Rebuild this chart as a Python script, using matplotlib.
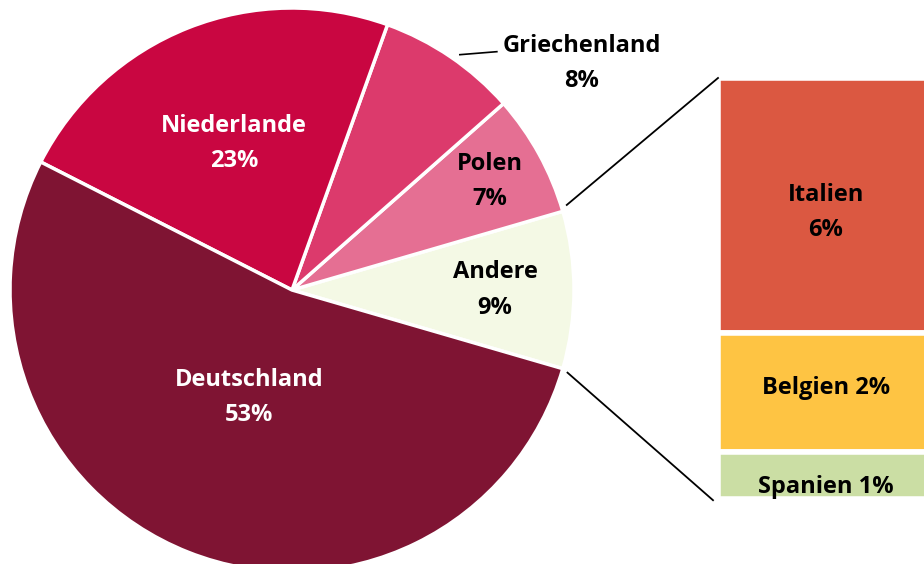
import numpy as np
import matplotlib
matplotlib.use("Agg")
import matplotlib.pyplot as plt

# pie data (share in %)
pie_labels = ["Andere", "Polen", "Griechenland", "Niederlande", "Deutschland"]
pie_values = [9, 7, 8, 23, 53]
pie_colors = ["#f4f9e5", "#e56f93", "#dc3a6c", "#c90641", "#7f1433"]
pie_text_colors = ["black", "black", "black", "white", "white"]

# breakdown of "Andere"
bar_labels = ["Italien\n6%", "Belgien 2%", "Spanien 1%"]
bar_values = [5.45, 2.55, 1.0]
bar_colors = ["#db5841", "#fec443", "#cbdea4"]

W, H = 924, 564
plt.rcParams["font.family"] = ["Open Sans", "DejaVu Sans"]

fig = plt.figure(figsize=(W / 100, H / 100), dpi=100)
ax = fig.add_axes([0, 0, 1, 1])

cx, cy, R = 292, 274, 282
start = -pie_values[0] / 100 * 360 / 2

wedges, _ = ax.pie(pie_values, colors=pie_colors, startangle=start, counterclock=True,
                   center=(cx, cy), radius=R, frame=True,
                   wedgeprops=dict(edgecolor="white", linewidth=2.5))
ax.set_xlim(0, W)
ax.set_ylim(0, H)
ax.set_aspect("equal")
ax.axis("off")

fs = 17
ls = 1.62
# label radius (fraction of R) per slice
label_r = [0.72, 0.80, None, 0.56, 0.41]
for w, lab, val, tc, lr in zip(wedges, pie_labels, pie_values, pie_text_colors, label_r):
    mid = np.deg2rad((w.theta1 + w.theta2) / 2)
    if lr is None:
        # outside label with leader line
        a = np.deg2rad(54.5)
        x0, y0 = cx + 1.025 * R * np.cos(a), cy + 1.025 * R * np.sin(a)
        ax.plot([x0, x0 + 37], [y0, y0 + 3], color="black", lw=1.2)
        ax.text(x0 + 122, y0 - 9, f"{lab}\n{val}%", ha="center", va="center",
                fontsize=fs, fontweight="bold", linespacing=ls)
        continue
    x, y = cx + lr * R * np.cos(mid), cy + lr * R * np.sin(mid)
    ax.text(x, y, f"{lab}\n{val}%", ha="center", va="center", color=tc,
            fontsize=fs, fontweight="bold", linespacing=ls)

# stacked bar for "Andere"
bx, bw = 718, 240
k = 46.8
top = H - 78
y = top
bar_dy = [-7, 5, -11]
for lab, v, c, dy in zip(bar_labels, bar_values, bar_colors, bar_dy):
    h = v * k
    ax.bar(bx, h, bottom=y - h, width=bw, align="edge", color=c,
           edgecolor="white", linewidth=4)
    ax.text(bx + 108, y - h / 2 + dy, lab, ha="center", va="center",
            fontsize=fs, fontweight="bold", linespacing=ls)
    y -= h

# connector lines
a1 = np.deg2rad(wedges[0].theta2 + 1)
a2 = np.deg2rad(wedges[0].theta1 - 0.5)
ax.plot([cx + 1.02 * R * np.cos(a1), bx], [cy + 1.02 * R * np.sin(a1), top],
        color="black", lw=1.3)
ax.plot([cx + 1.02 * R * np.cos(a2), bx - 5], [cy + 1.02 * R * np.sin(a2), y - 1],
        color="black", lw=1.3)

fig.savefig("out.png", dpi=100, facecolor="white")
